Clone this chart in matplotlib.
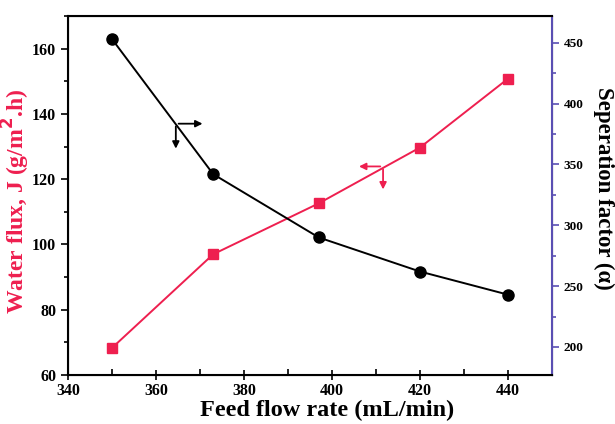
import numpy as np
import matplotlib.pyplot as plt
from matplotlib.ticker import MultipleLocator

plt.rcParams['font.family'] = ['Liberation Serif', 'DejaVu Serif']
plt.rcParams['font.weight'] = 'bold'

flow_rate = [350, 373, 397, 420, 440]
water_flux = [68.3, 97.0, 112.6, 129.7, 150.8]
sep_factor = [453, 342, 290, 262, 243]

red = '#ee1f4f'
blue = '#5a4fb3'

fig = plt.figure(figsize=(6.15, 4.24), dpi=100)
ax = fig.add_axes([0.1106, 0.1156, 0.7870, 0.8467])
ax2 = ax.twinx()

ax.plot(flow_rate, water_flux, color=red, lw=1.4, marker='s', ms=7, zorder=3)
ax2.plot(flow_rate, sep_factor, color='black', lw=1.4, marker='o', ms=8, zorder=3)

ax.set_xlim(340, 450)
ax.set_ylim(60, 170)
ax2.set_ylim(177, 472)

ax.xaxis.set_major_locator(MultipleLocator(20))
ax.xaxis.set_minor_locator(MultipleLocator(10))
ax.yaxis.set_major_locator(MultipleLocator(20))
ax.yaxis.set_minor_locator(MultipleLocator(10))
ax2.yaxis.set_major_locator(MultipleLocator(50))
ax2.yaxis.set_minor_locator(MultipleLocator(25))

ax.tick_params(axis='x', which='major', direction='inout', length=7, width=1.2, labelsize=11.5, pad=2)
ax.tick_params(axis='x', which='minor', direction='in', length=4, width=1.2)
ax.tick_params(axis='y', which='major', direction='out', length=5, width=1.2, labelsize=11.5)
ax.tick_params(axis='y', which='minor', direction='out', length=3, width=1.2)
ax2.tick_params(axis='y', which='major', direction='out', length=5, width=1.2, labelsize=9.5, color=blue)
ax2.tick_params(axis='y', which='minor', direction='out', length=3, width=1.2, color=blue)

for s in ['left', 'bottom', 'top']:
    ax2.spines[s].set_linewidth(1.5)
ax2.spines['right'].set_color(blue)
ax2.spines['right'].set_linewidth(1.5)

ax.set_xlabel('Feed flow rate (mL/min)', fontsize=17.5, fontweight='bold')
ax.xaxis.set_label_coords(0.535, -0.07)
ax.set_ylabel('Water flux, J (g/m$^{\\mathbf{2}}$.h)', fontsize=17, fontweight='bold', color=red)
ax.yaxis.set_label_coords(-0.074, 0.485)
ax2.set_ylabel('Seperation factor (\u03b1)', fontsize=16.5, fontweight='bold', rotation=270)
ax2.yaxis.set_label_coords(1.128, 0.52)

# direction arrows
arr = dict(arrowstyle='-|>', lw=1.3, mutation_scale=10)
ax.annotate('', xy=(371.2, 137), xytext=(364.5, 137), arrowprops=dict(arr, color='black'))
ax.annotate('', xy=(364.5, 128.5), xytext=(364.5, 137), arrowprops=dict(arr, color='black'))
ax.annotate('', xy=(405.5, 123.9), xytext=(411.6, 123.9), arrowprops=dict(arr, color=red))
ax.annotate('', xy=(411.6, 116.0), xytext=(411.6, 123.9), arrowprops=dict(arr, color=red))

fig.savefig('out.png', dpi=100)
